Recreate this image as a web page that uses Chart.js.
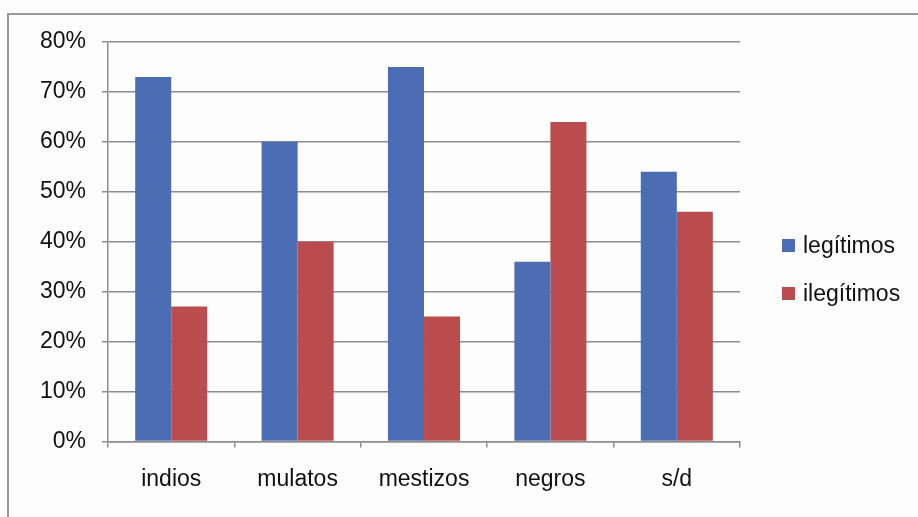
<!DOCTYPE html>
<html>
<head>
<meta charset="utf-8">
<script src="https://cdn.jsdelivr.net/npm/chart.js@4.4.1/dist/chart.umd.min.js"></script>
<style>
  html, body { margin: 0; padding: 0; background: #fdfdfd; }
  #wrap { position: relative; width: 918px; height: 517px; overflow: hidden; }
  #frame { position: absolute; left: 7px; top: 13px; width: 930px; height: 530px;
           border: 2px solid #9a9a9a; box-sizing: border-box; }
  canvas { position: absolute; left: 0; top: 0; }
  #legend { position: absolute; left: 782px; top: 232px; margin: 0; padding: 0; list-style: none;
            font-family: 'Liberation Sans', Arial, sans-serif; font-size: 23px; color: #111; }
  #legend li { display: flex; align-items: center; height: 26px; margin-bottom: 22px; white-space: nowrap; }
  #legend .sw { display: inline-block; width: 13px; height: 13px; margin-right: 8px; }
</style>
</head>
<body>
<div id="wrap">
  <div id="frame"></div>
  <canvas id="c" width="918" height="517"></canvas>
  <ul id="legend"></ul>
</div>
<script>
// Share of legitimate vs. illegitimate births by group (%)
const categories = ['indios', 'mulatos', 'mestizos', 'negros', 's/d'];
const legitimos = [73, 60, 75, 36, 54];
const ilegitimos = [27, 40, 25, 64, 46];
const yTicks = [0, 10, 20, 30, 40, 50, 60, 70, 80];

const FONT = 'Liberation Sans, Arial, sans-serif';
const GRID = '#8e8e8e';

const chart = new Chart(document.getElementById('c'), {
  type: 'bar',
  data: {
    labels: categories,
    datasets: [
      { label: 'legítimos', data: legitimos, backgroundColor: '#4a6db3' },
      { label: 'ilegítimos', data: ilegitimos, backgroundColor: '#bb4c4e' }
    ]
  },
  options: {
    responsive: false,
    animation: false,
    devicePixelRatio: 1,
    layout: { padding: { left: 24, top: 42, right: 178, bottom: 6 } },
    datasets: { bar: { categoryPercentage: 0.57, barPercentage: 1.0 } },
    plugins: {
      tooltip: { enabled: false },
      legend: { display: false }
    },
    scales: {
      x: {
        grid: { display: true, drawOnChartArea: false, drawTicks: true, tickLength: 6, color: GRID, lineWidth: 1.5 },
        border: { display: true, color: GRID, width: 1.5 },
        ticks: { color: '#111', font: { family: FONT, size: 23 }, padding: 18 }
      },
      y: {
        min: 0, max: 80,
        afterBuildTicks: (axis) => { axis.ticks = yTicks.map(v => ({ value: v })); },
        grid: { color: GRID, lineWidth: 1.5, tickLength: 6 },
        border: { display: true, color: GRID, width: 1.5 },
        ticks: { color: '#111', font: { family: FONT, size: 23 }, padding: 16,
                 callback: (v) => v + '%' }
      }
    }
  }
});

// Legend built from the dataset labels and colours
const legend = document.getElementById('legend');
chart.data.datasets.forEach((ds) => {
  const li = document.createElement('li');
  const sw = document.createElement('span');
  sw.className = 'sw';
  sw.style.background = ds.backgroundColor;
  li.appendChild(sw);
  li.appendChild(document.createTextNode(ds.label));
  legend.appendChild(li);
});
</script>
</body>
</html>
